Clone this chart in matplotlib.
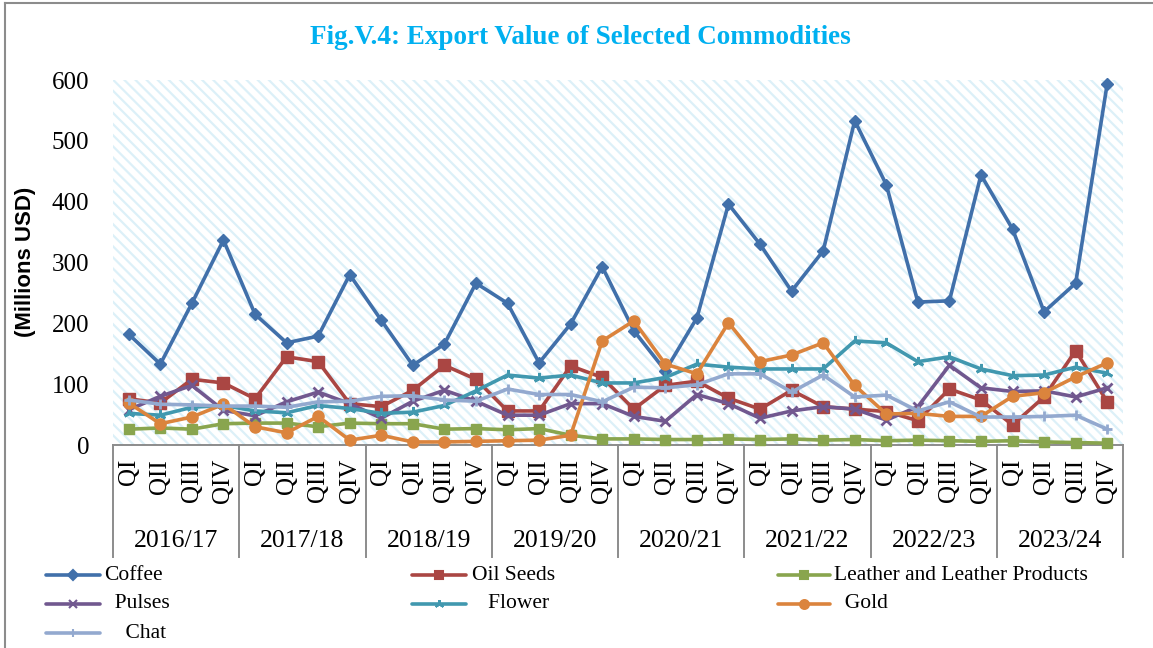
import matplotlib
matplotlib.use("Agg")
import matplotlib.pyplot as plt
from matplotlib.lines import Line2D
from matplotlib.patches import Rectangle

# ---------------- data ----------------
years = ["2016/17", "2017/18", "2018/19", "2019/20", "2020/21", "2021/22", "2022/23", "2023/24"]
quarters = ["QI", "QII", "QIII", "QIV"]

coffee = [182, 133, 233, 337, 215, 168, 179, 280, 205, 131, 166, 266, 233, 135, 199, 293,
          188, 122, 209, 396, 330, 253, 319, 533, 428, 235, 237, 444, 355, 219, 266, 594]
oil_seeds = [76, 69, 108, 102, 76, 145, 137, 68, 63, 90, 131, 108, 56, 56, 130, 111,
             59, 98, 105, 77, 59, 90, 63, 59, 55, 40, 92, 74, 33, 79, 155, 71]
leather = [26, 28, 26, 35, 36, 36, 30, 36, 35, 35, 26, 27, 25, 27, 16, 10,
           10, 9, 9, 10, 9, 10, 8, 9, 7, 8, 7, 6, 7, 5, 4, 3]
pulses = [58, 80, 98, 57, 48, 71, 87, 68, 44, 72, 90, 72, 49, 49, 68, 68,
          47, 39, 83, 68, 44, 56, 63, 59, 41, 63, 131, 94, 88, 89, 79, 94]
flower = [52, 49, 62, 65, 56, 53, 65, 60, 52, 54, 65, 89, 115, 110, 115, 102,
          102, 111, 133, 128, 125, 125, 125, 171, 168, 137, 145, 125, 114, 115, 128, 118]
gold = [69, 35, 46, 67, 30, 20, 47, 8, 16, 5, 5, 6, 7, 8, 16, 171,
        204, 133, 117, 201, 137, 148, 168, 98, 51, 52, 47, 47, 80, 86, 112, 135]
chat = [74, 67, 66, 64, 64, 62, 71, 72, 80, 81, 74, 72, 92, 83, 83, 71,
        95, 94, 99, 117, 117, 87, 115, 79, 82, 56, 71, 46, 46, 47, 49, 26]

series_names = ["Coffee", "Oil Seeds", "Leather and Leather Products", "Pulses", "Flower", "Gold", "Chat"]
legend_labels = ["Coffee", "Oil Seeds", "Leather and Leather Products", "  Pulses", "   Flower", "  Gold", "    Chat"]
series_values = [coffee, oil_seeds, leather, pulses, flower, gold, chat]
colors = ["#4170AA", "#AA4643", "#89A54E", "#71588F", "#4198AF", "#DB843D", "#93A9CF"]
markers = ["D", "s", "s", "x", (3, 2, 0), "o", "+"]
msizes = [6, 8, 7, 7, 8, 8, 7]

# ---------------- figure ----------------
W, H = 1153, 648
fig = plt.figure(figsize=(W / 100, H / 100), dpi=100)
serif = ["Liberation Serif", "DejaVu Serif"]

def fx(px):
    return px / W

def fy(py):
    return 1 - py / H

ax_l, ax_r, ax_t, ax_b = 113, 1123, 80, 445
ax = fig.add_axes([fx(ax_l), fy(ax_b), fx(ax_r - ax_l), (ax_b - ax_t) / H])

# hatched background
plt.rcParams["hatch.linewidth"] = 1.6
ax.add_patch(Rectangle((0, 0), 1, 1, transform=ax.transAxes, facecolor="white",
                       edgecolor="#dcf0f8", hatch="\\\\\\", lw=0, zorder=0))

n = len(coffee)
x = list(range(n))
for i, (vals, c, m, ms) in enumerate(zip(series_values, colors, markers, msizes)):
    ax.plot(x, vals, color=c, lw=2.6, marker=m, markersize=ms, markerfacecolor=c,
            markeredgecolor=c, markeredgewidth=2 if m in ("x", "+") or isinstance(m, tuple) else 1,
            zorder=3 + i, clip_on=False)

ax.set_xlim(-0.5, n - 0.5)
ax.set_ylim(0, 600)
ax.set_yticks(range(0, 601, 100))
ax.set_yticklabels([str(v) for v in range(0, 601, 100)], fontfamily=serif, fontsize=18)
ax.tick_params(axis="y", length=0, pad=17)
ax.set_xticks([])
for s in ["left", "right", "top"]:
    ax.spines[s].set_visible(False)
ax.spines["bottom"].set_color("#8c8c8c")
ax.spines["bottom"].set_linewidth(1.4)

# multi-level category axis
xt = ax.get_xaxis_transform()
box_bottom = (ax_b - 557) / (ax_b - ax_t)
for g in range(len(years) + 1):
    xb = g * 4 - 0.5
    ax.add_line(Line2D([xb, xb], [0, box_bottom], transform=xt, color="#8c8c8c",
                       lw=1.4, clip_on=False))
q_top = (ax_b - 459) / (ax_b - ax_t)
yr_y = (ax_b - 541) / (ax_b - ax_t)
for gi, yr in enumerate(years):
    for qi, q in enumerate(quarters):
        ax.text(gi * 4 + qi, q_top, q, transform=xt, rotation=90, ha="center", va="top",
                fontfamily=serif, fontsize=18)
    ax.text(gi * 4 + 1.5, yr_y, yr, transform=xt, ha="center", va="center",
            fontfamily=serif, fontsize=18.5)

# title and y-label
fig.text(fx(580), fy(38), "Fig.V.4: Export Value of Selected Commodities", ha="center",
         va="center", fontfamily=serif, fontweight="bold", fontsize=19.5, color="#00B0F0")
fig.text(fx(26), fy(262), "(Millions USD)", rotation=90, ha="center", va="center",
         fontfamily=["Liberation Sans", "DejaVu Sans"], fontweight="bold", fontsize=16)

# legend (manual, Excel-style grid)
col_handle = [(46, 100), (412, 466), (778, 830)]
col_text = [104, 472, 834]
row_y = [575, 604, 633]
for k, (lab, c, m, ms) in enumerate(zip(legend_labels, colors, markers, msizes)):
    r, cidx = divmod(k, 3)
    x0, x1 = col_handle[cidx]
    yy = fy(row_y[r])
    fig.add_artist(Line2D([fx(x0), fx(x1)], [yy, yy], transform=fig.transFigure, color=c,
                          lw=2.6, solid_capstyle="round"))
    fig.add_artist(Line2D([fx((x0 + x1) / 2)], [yy], transform=fig.transFigure, color=c,
                          marker=m, markersize=ms * 0.8, markeredgewidth=1.5, lw=0))
    fig.text(fx(col_text[cidx]), yy, lab, ha="left", va="center", fontfamily=serif, fontsize=15.5)

# outer frame (left and top edges visible)
fig.add_artist(Line2D([fx(5), fx(5)], [fy(3), 0], transform=fig.transFigure, color="#8c8c8c", lw=1.5))
fig.add_artist(Line2D([fx(5), 1], [fy(3), fy(3)], transform=fig.transFigure, color="#8c8c8c", lw=1.5))

fig.savefig("out.png", dpi=100)
